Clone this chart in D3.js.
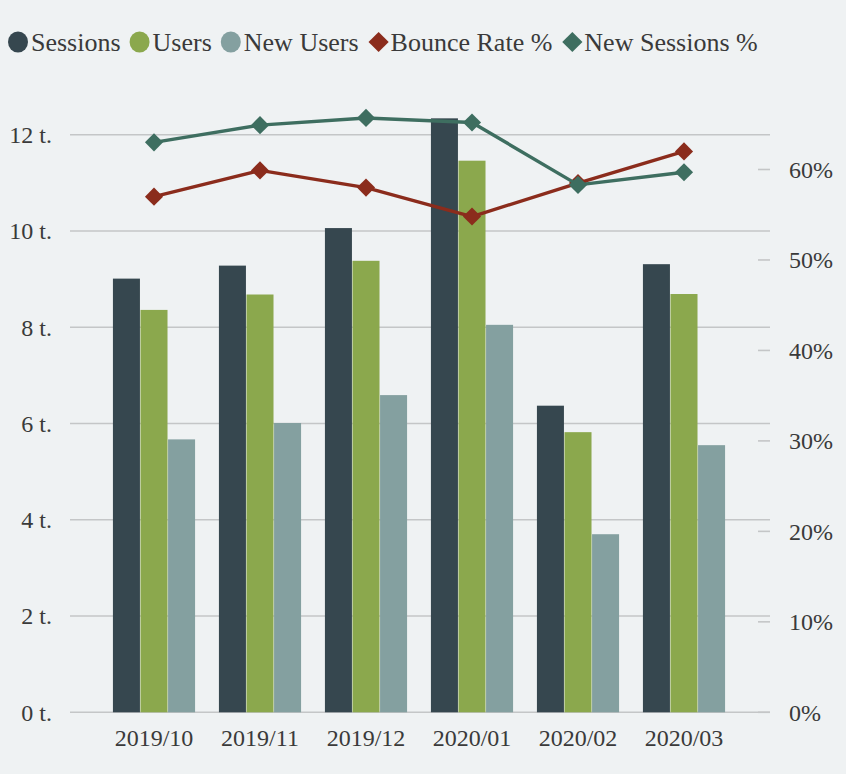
<!DOCTYPE html>
<html>
<head>
<meta charset="utf-8">
<script src="https://cdn.jsdelivr.net/npm/d3@7/dist/d3.min.js"></script>
<style>
  html, body { margin: 0; padding: 0; background: #eff2f3; }
  svg { display: block; }
</style>
</head>
<body>
<svg id="chart" width="846" height="774"></svg>
<script>
// Monthly traffic, counts in thousands
const months = ["2019/10", "2019/11", "2019/12", "2020/01", "2020/02", "2020/03"];
const sessions = [9.01, 9.28, 10.06, 12.34, 6.37, 9.31];
const users = [8.36, 8.68, 9.38, 11.46, 5.82, 8.69];
const newUsers = [5.67, 6.01, 6.59, 8.05, 3.70, 5.55];
// Rates in percent
const bounceRate = [57.0, 59.9, 58.0, 54.8, 58.5, 62.0];
const newSessions = [63.0, 64.9, 65.7, 65.2, 58.3, 59.7];

const leftTicks = [0, 2, 4, 6, 8, 10, 12];
const rightTicks = [0, 10, 20, 30, 40, 50, 60];

const barSeries = [
  { name: "Sessions", values: sessions, color: "#36474f" },
  { name: "Users", values: users, color: "#8ba84d" },
  { name: "New Users", values: newUsers, color: "#84a0a0" }
];
const lineSeries = [
  { name: "Bounce Rate %", values: bounceRate, color: "#8b2c1c" },
  { name: "New Sessions %", values: newSessions, color: "#3e6e60" }
];

const FONT = '"Liberation Serif"';
const TEXT = "#3a3a3a";

const svg = d3.select("#chart");
const W = 846, H = 774;
svg.append("rect").attr("width", W).attr("height", H).attr("fill", "#eff2f3");

const plot = { left: 70, right: 770, bottom: 712.3 };

const x = d3.scaleBand().domain(months).range([101, 737]).paddingInner(0.225).paddingOuter(0.1125);
const xs = d3.scaleBand().domain(barSeries.map(d => d.name)).range([0, x.bandwidth()]).paddingInner(0.02);
const yL = d3.scaleLinear().domain([0, 12]).range([plot.bottom, 134.7]);
const yR = d3.scaleLinear().domain([0, 60]).range([plot.bottom, 169.5]);

function label(sel) {
  return sel.style("font-family", FONT).attr("fill", TEXT);
}

// Gridlines on the left axis ticks
svg.append("g").selectAll("line").data(leftTicks).join("line")
  .attr("x1", plot.left).attr("x2", plot.right)
  .attr("y1", d => yL(d)).attr("y2", d => yL(d))
  .attr("stroke", "#c4c6c7").attr("stroke-width", 1.6);

// Left axis labels
svg.append("g").selectAll("text").data(leftTicks).join("text")
  .call(label)
  .attr("x", 52).attr("y", d => yL(d)).attr("dy", "0.35em")
  .attr("text-anchor", "end").attr("font-size", 24)
  .text(d => d + " t.");

// Right axis tick marks and labels
svg.append("g").selectAll("line").data(rightTicks).join("line")
  .attr("x1", 758).attr("x2", 770)
  .attr("y1", d => yR(d)).attr("y2", d => yR(d))
  .attr("stroke", "#c4c6c7").attr("stroke-width", 1.6);
svg.append("g").selectAll("text").data(rightTicks).join("text")
  .call(label)
  .attr("x", 789).attr("y", d => yR(d)).attr("dy", "0.35em")
  .attr("text-anchor", "start").attr("font-size", 24)
  .text(d => d + "%");

// X axis labels
svg.append("g").selectAll("text").data(months).join("text")
  .call(label)
  .attr("x", d => x(d) + x.bandwidth() / 2).attr("y", 746)
  .attr("text-anchor", "middle").attr("font-size", 24)
  .text(d => d);

// Bars
const groups = svg.append("g").selectAll("g").data(months).join("g")
  .attr("transform", d => `translate(${x(d)},0)`);
groups.selectAll("rect")
  .data((m, i) => barSeries.map(s => ({ s, v: s.values[i] })))
  .join("rect")
  .attr("x", d => xs(d.s.name))
  .attr("width", xs.bandwidth())
  .attr("y", d => yL(d.v))
  .attr("height", d => yL(0) - yL(d.v))
  .attr("fill", d => d.s.color);

// Rate lines with diamond markers
const diamond = d3.symbol().type(d3.symbolDiamond2).size(210);
lineSeries.forEach(s => {
  const line = d3.line()
    .x((d, i) => x(months[i]) + x.bandwidth() / 2)
    .y(d => yR(d));
  svg.append("path").datum(s.values)
    .attr("d", line).attr("fill", "none")
    .attr("stroke", s.color).attr("stroke-width", 3.4)
    .attr("stroke-linejoin", "round");
  svg.append("g").selectAll("path").data(s.values).join("path")
    .attr("d", diamond)
    .attr("transform", (d, i) => `translate(${x(months[i]) + x.bandwidth() / 2},${yR(d)})`)
    .attr("fill", s.color);
});

// Legend
const legendItems = [
  ...barSeries.map(s => ({ name: s.name, color: s.color, shape: "circle" })),
  ...lineSeries.map(s => ({ name: s.name, color: s.color, shape: "diamond" }))
];
const legend = svg.append("g").attr("transform", "translate(8,42)");
let cx = 0;
legendItems.forEach(item => {
  const g = legend.append("g").attr("transform", `translate(${cx},0)`);
  if (item.shape === "circle") {
    g.append("ellipse").attr("cx", 10).attr("cy", 0).attr("rx", 10).attr("ry", 10.5).attr("fill", item.color);
  } else {
    g.append("path").attr("d", d3.symbol().type(d3.symbolDiamond2).size(260))
      .attr("transform", "translate(11,0)").attr("fill", item.color);
  }
  const t = g.append("text").call(label)
    .attr("x", 23).attr("y", 0).attr("dy", "0.35em")
    .attr("font-size", 26).text(item.name);
  cx += 23 + t.node().getComputedTextLength() + 9;
});
</script>
</body>
</html>
